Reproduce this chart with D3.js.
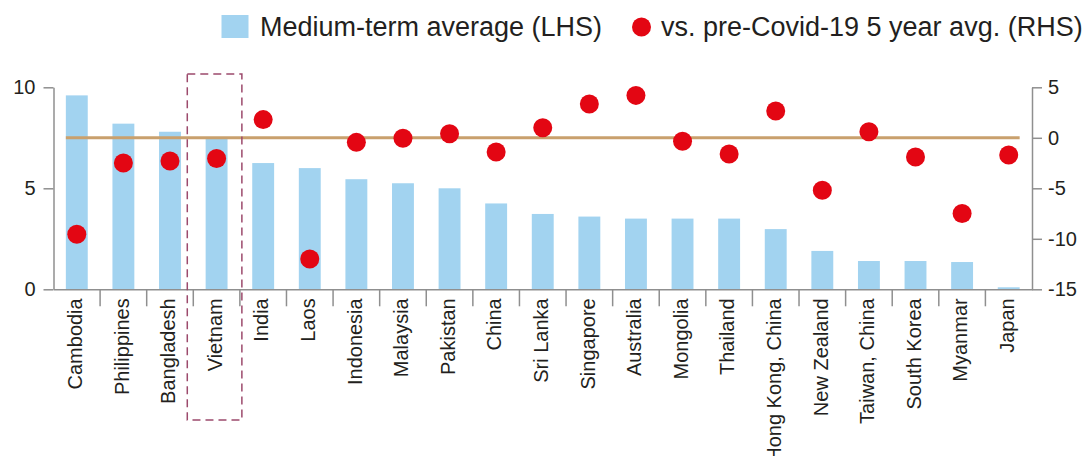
<!DOCTYPE html>
<html>
<head>
<meta charset="utf-8">
<script src="https://cdn.jsdelivr.net/npm/d3@7"></script>
<style>
  html, body { margin: 0; padding: 0; background: #fff; }
  svg { display: block; font-family: "Liberation Sans", Arial, Helvetica, sans-serif; }
</style>
</head>
<body>
<svg id="chart" width="1088" height="456"></svg>
<script>
// Economies, ordered by medium-term average growth
const categories = [
  "Cambodia", "Philippines", "Bangladesh", "Vietnam", "India", "Laos",
  "Indonesia", "Malaysia", "Pakistan", "China", "Sri Lanka", "Singapore",
  "Australia", "Mongolia", "Thailand", "Hong Kong, China", "New Zealand",
  "Taiwan, China", "South Korea", "Myanmar", "Japan"
];

// Medium-term average growth, % (left axis)
const mediumTerm = [
  9.6, 8.2, 7.8, 7.5, 6.25, 6.0,
  5.45, 5.25, 5.0, 4.25, 3.73, 3.6,
  3.5, 3.5, 3.5, 2.98, 1.9,
  1.4, 1.4, 1.35, 0.1
];

// Difference vs. pre-Covid-19 5 year average, pp (right axis)
const vsPreCovid = [
  -9.55, -2.5, -2.3, -2.05, 1.8, -12.0,
  -0.45, -0.05, 0.4, -1.4, 1.0, 3.35,
  4.2, -0.35, -1.6, 2.65, -5.2,
  0.6, -1.9, -7.5, -1.7
];

const leftTicks = [0, 5, 10];
const rightTicks = [-15, -10, -5, 0, 5];
const highlighted = "Vietnam";

const legendLabels = ["Medium-term average (LHS)", "vs. pre-Covid-19 5 year avg. (RHS)"];

const colors = {
  bar: "#a2d3f0",
  dot: "#e30613",
  zero: "#c9a06d",
  axis: "#8f8f8f",
  text: "#231f20",
  box: "#9c4a6c"
};

const svg = d3.select("#chart");

const plot = { left: 53.5, right: 1032, top: 87.3, bottom: 289.3 };

const x = d3.scaleBand()
  .domain(categories)
  .range([plot.left, plot.right])
  .paddingInner(0.53)
  .paddingOuter(0.265);

const step = x.step();
const bandStart = i => plot.left + i * step;

const yLeft = d3.scaleLinear().domain([0, 10]).range([plot.bottom, plot.top]);
const yRight = d3.scaleLinear().domain([-15, 5]).range([plot.bottom, plot.top]);

// Bars
svg.append("g")
  .selectAll("rect")
  .data(categories)
  .join("rect")
  .attr("x", d => x(d))
  .attr("width", x.bandwidth())
  .attr("y", (d, i) => yLeft(mediumTerm[i]))
  .attr("height", (d, i) => yLeft(0) - yLeft(mediumTerm[i]))
  .attr("fill", colors.bar);

// Zero line of the right axis
svg.append("line")
  .attr("x1", x(categories[0]))
  .attr("x2", x(categories[categories.length - 1]) + x.bandwidth())
  .attr("y1", yRight(0))
  .attr("y2", yRight(0))
  .attr("stroke", colors.zero)
  .attr("stroke-width", 3);

// Left axis
const gLeft = svg.append("g")
  .attr("transform", `translate(${plot.left},0)`)
  .call(d3.axisLeft(yLeft).tickValues(leftTicks).tickSize(10).tickSizeOuter(0).tickPadding(8));

// Right axis
const gRight = svg.append("g")
  .attr("transform", `translate(${plot.right},0)`)
  .call(d3.axisRight(yRight).tickValues(rightTicks).tickFormat(d => String(d))
    .tickSize(10).tickSizeOuter(0).tickPadding(6));

// Bottom axis with rotated category labels
const gBottom = svg.append("g")
  .attr("transform", `translate(0,${plot.bottom})`)
  .call(d3.axisBottom(x).tickSize(0).tickSizeOuter(0));

gBottom.selectAll(".tick text")
  .attr("transform", "translate(0,9) rotate(-90)")
  .attr("x", 0)
  .attr("y", 0)
  .attr("dy", "0.26em")
  .attr("text-anchor", "end");

// Separators between categories
svg.append("g")
  .selectAll("line")
  .data(d3.range(1, categories.length))
  .join("line")
  .attr("x1", i => bandStart(i))
  .attr("x2", i => bandStart(i))
  .attr("y1", plot.bottom)
  .attr("y2", plot.bottom + 17)
  .attr("stroke", colors.axis)
  .attr("stroke-width", 1.5);

[gLeft, gRight, gBottom].forEach(g => {
  g.selectAll("path.domain").attr("stroke", colors.axis).attr("stroke-width", 1.5);
  g.selectAll(".tick line").attr("stroke", colors.axis).attr("stroke-width", 1.5);
  g.selectAll("text")
    .attr("fill", colors.text)
    .style("font-size", "20px")
    .style("font-family", "'Liberation Sans', Arial, sans-serif");
});

// Dots
svg.append("g")
  .selectAll("circle")
  .data(categories)
  .join("circle")
  .attr("cx", d => x(d) + x.bandwidth() / 2)
  .attr("cy", (d, i) => yRight(vsPreCovid[i]))
  .attr("r", 9.5)
  .attr("fill", colors.dot);

// Dashed highlight box around the highlighted economy
const hx = bandStart(categories.indexOf(highlighted)) - 6;
svg.append("rect")
  .attr("x", hx)
  .attr("y", 74)
  .attr("width", step + 8)
  .attr("height", 346)
  .attr("fill", "none")
  .attr("stroke", colors.box)
  .attr("stroke-width", 1.5)
  .attr("stroke-dasharray", "8,5");

// Legend
const legend = svg.append("g").style("font-size", "27px").attr("fill", colors.text);
legend.append("rect")
  .attr("x", 221.5).attr("y", 15).attr("width", 27).attr("height", 23)
  .attr("fill", colors.bar);
legend.append("text").attr("x", 260).attr("y", 35.5).text(legendLabels[0]);
legend.append("circle")
  .attr("cx", 641.5).attr("cy", 27).attr("r", 9.5)
  .attr("fill", colors.dot);
legend.append("text").attr("x", 661).attr("y", 35.5).text(legendLabels[1]);
</script>
</body>
</html>
